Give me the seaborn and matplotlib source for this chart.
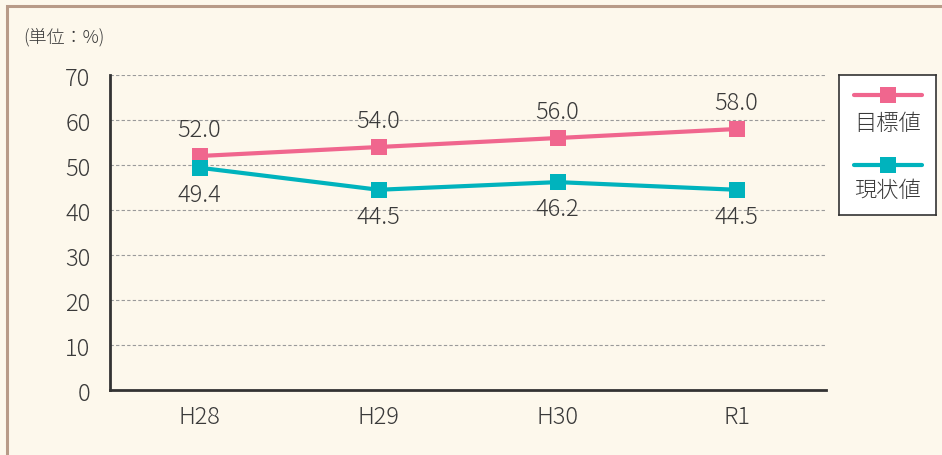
import matplotlib
matplotlib.use("Agg")
import matplotlib.pyplot as plt
from matplotlib.lines import Line2D
from matplotlib.patches import Rectangle
import pandas as pd
import seaborn as sns

years = ["H28", "H29", "H30", "R1"]
target = [52.0, 54.0, 56.0, 58.0]
current = [49.4, 44.5, 46.2, 44.5]
series_names = ["目標値", "現状値"]
yticks = [0, 10, 20, 30, 40, 50, 60, 70]
unit_label = "(単位：%)"

pink = "#f0668e"
teal = "#00b3bd"
text_c = "#3a3a3a"
bg = "#fdf8ec"

sns.set_style("white")
plt.rcParams["font.family"] = ["Noto Sans CJK JP", "DejaVu Sans"]
plt.rcParams["font.weight"] = "light"

df = pd.DataFrame(
    {
        "year": years * 2,
        "value": target + current,
        "series": [series_names[0]] * 4 + [series_names[1]] * 4,
    }
)

fig = plt.figure(figsize=(9.42, 4.56), dpi=100, facecolor=bg)
ax = fig.add_axes([0.1168, 0.1425, 0.7601, 0.6908])
ax.set_facecolor(bg)

sns.lineplot(
    data=df,
    x="year",
    y="value",
    hue="series",
    palette=[pink, teal],
    style="series",
    markers=["s", "s"],
    dashes=False,
    markersize=11,
    markeredgewidth=0,
    linewidth=3,
    legend=False,
    ax=ax,
)

fs = 17
for i, v in enumerate(target):
    ax.annotate(f"{v:.1f}", (i, v), xytext=(0, 19), textcoords="offset points",
                ha="center", va="center", fontsize=fs, color=text_c)
for i, v in enumerate(current):
    ax.annotate(f"{v:.1f}", (i, v), xytext=(0, -19), textcoords="offset points",
                ha="center", va="center", fontsize=fs, color=text_c)

ax.set_xlim(-0.5, 3.5)
ax.set_ylim(0, 70)
ax.set_yticks(yticks)
ax.set_yticklabels([str(t) for t in yticks], fontsize=fs, color=text_c)
ax.set_xticks(range(len(years)))
ax.set_xticklabels(years, fontsize=fs, color=text_c)
ax.set_xticks([0.5, 1.5, 2.5, 3.5], minor=True)
ax.tick_params(axis="x", which="major", length=0, pad=10)
ax.tick_params(axis="x", which="minor", direction="in", length=6, width=1.5, color="#333333")
ax.tick_params(axis="y", length=0, pad=14)
ax.set_xlabel("")
ax.set_ylabel("")
for yv in yticks[1:]:
    ax.axhline(yv, color="#9a9a9a", linestyle=(0, (3, 2)), linewidth=0.8, zorder=0)
for s in ["top", "right"]:
    ax.spines[s].set_visible(False)
for s in ["left", "bottom"]:
    ax.spines[s].set_color("#333333")
    ax.spines[s].set_linewidth(2)

fig.text(0.025, 0.918, unit_label, fontsize=13, color=text_c, ha="left", va="center")

# legend box
lax = fig.add_axes([0.8907, 0.5263, 0.1029, 0.307])
lax.set_facecolor("white")
lax.set_xlim(0, 1)
lax.set_ylim(0, 1)
lax.set_xticks([])
lax.set_yticks([])
for s in lax.spines.values():
    s.set_color("#333333")
    s.set_linewidth(1.2)
for col, name, ly, ty in [(pink, series_names[0], 0.857, 0.66), (teal, series_names[1], 0.357, 0.18)]:
    lax.add_line(Line2D([0.155, 0.856], [ly, ly], color=col, linewidth=3,
                        solid_capstyle="round"))
    lax.plot([0.505], [ly], marker="s", markersize=11, color=col, markeredgewidth=0)
    lax.text(0.5, ty, name, ha="center", va="center", fontsize=16, color=text_c)

fig.patches.append(Rectangle((0.0074, -0.2), 1.2, 1.1846, transform=fig.transFigure,
                             fill=False, edgecolor="#b89b88", linewidth=2.2))

fig.savefig("out.png", dpi=100, facecolor=bg)
